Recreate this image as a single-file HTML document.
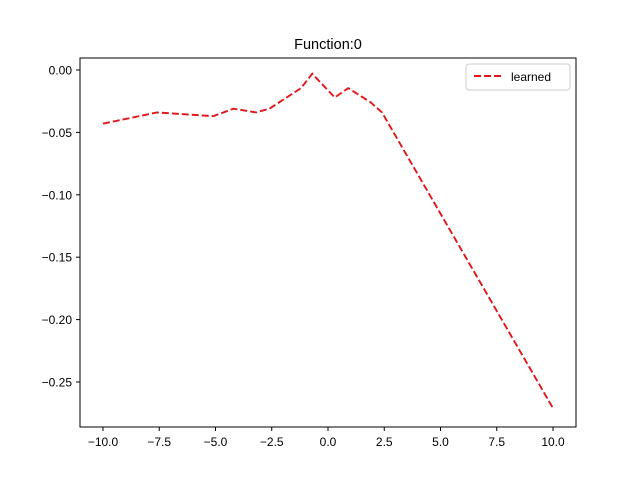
<!DOCTYPE html>
<html><head><meta charset="utf-8"><style>body{margin:0;background:#fff}svg{display:block;font-family:"Liberation Sans","DejaVu Sans",sans-serif}</style></head>
<body>
<svg id="chart" width="640" height="480">
<rect width="640" height="480" fill="#fff"/>
<text x="328" y="49" font-size="14.5" text-anchor="middle">Function:0</text>
<g id="ticks"></g>
<path id="line" fill="none" stroke="#e0161b" stroke-width="1.9" stroke-dasharray="7,3"/>
<rect x="80" y="58" width="496" height="369" fill="none" stroke="#000" stroke-width="1"/>
<g>
<rect x="466" y="64" width="104" height="26" rx="3" fill="#fff" stroke="#ccc"/>
<line x1="474" y1="76" x2="502" y2="76" stroke="#e0161b" stroke-width="1.9" stroke-dasharray="7,3"/>
<text x="511" y="81" font-size="12">learned</text>
</g>
</svg>
<script>
const xs=[-10,-7.6,-5.1,-4.2,-3.2,-2.6,-1.2,-0.7,0.3,0.9,1.9,2.4,10];
const ys=[-0.043,-0.034,-0.037,-0.031,-0.034,-0.031,-0.0145,-0.003,-0.022,-0.0145,-0.026,-0.034,-0.271];
const xTicks=[-10,-7.5,-5,-2.5,0,2.5,5,7.5,10];
const yTicks=[0,-0.05,-0.10,-0.15,-0.20,-0.25];
const X=v=>103+(v+10)*22.5;
const Y=v=>70-v*1248;
const fmt=(v,d)=>(v<0?'\u2212':'')+Math.abs(v).toFixed(d);
document.getElementById('line').setAttribute('d',xs.map((x,i)=>(i?'L':'M')+X(x)+','+Y(ys[i])).join(''));
const g=document.getElementById('ticks');
const ns='http://www.w3.org/2000/svg';
xTicks.forEach(t=>{
 const l=document.createElementNS(ns,'line');l.setAttribute('x1',X(t));l.setAttribute('x2',X(t));l.setAttribute('y1',427);l.setAttribute('y2',431);l.setAttribute('stroke','#000');g.appendChild(l);
 const tx=document.createElementNS(ns,'text');tx.setAttribute('x',X(t));tx.setAttribute('y',446);tx.setAttribute('font-size','12');tx.setAttribute('text-anchor','middle');tx.textContent=fmt(t,1);
 
 
 g.appendChild(tx);
});
yTicks.forEach(t=>{
 const l=document.createElementNS(ns,'line');l.setAttribute('x1',76);l.setAttribute('x2',80);l.setAttribute('y1',Y(t));l.setAttribute('y2',Y(t));l.setAttribute('stroke','#000');g.appendChild(l);
 const tx=document.createElementNS(ns,'text');tx.setAttribute('x',72);tx.setAttribute('y',Y(t)+4.5);tx.setAttribute('font-size','12');tx.setAttribute('text-anchor','end');tx.textContent=fmt(t,2);
 
 
 g.appendChild(tx);
});
</script>
</body></html>
